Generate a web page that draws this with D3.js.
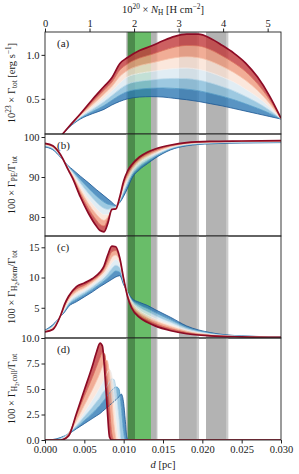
<!DOCTYPE html>
<html>
<head>
<meta charset="utf-8">
<script src="https://cdn.jsdelivr.net/npm/d3@7"></script>
<style>
  body { margin: 0; background: #fff; }
  svg text { font-family: "Liberation Serif", "DejaVu Serif", serif; fill: #1a1a1a; }
</style>
</head>
<body>
<svg id="svg"></svg>
<script>
// Distance grid (pc) and the family of curves for each panel (blue -> red)
const dTot = [0.0015, 0.003, 0.0045, 0.006, 0.0075, 0.0085, 0.0095, 0.0105, 0.012, 0.0135, 0.015, 0.0165, 0.018, 0.0195, 0.021, 0.0225, 0.024, 0.0255, 0.027, 0.0285, 0.03];
const gammaTot = [
    [0.02, 0.17, 0.27, 0.33, 0.38, 0.43, 0.47, 0.50, 0.52, 0.525, 0.52, 0.505, 0.49, 0.47, 0.445, 0.42, 0.39, 0.36, 0.33, 0.30, 0.27],
    [0.02, 0.173, 0.28, 0.353, 0.423, 0.483, 0.54, 0.583, 0.61, 0.62, 0.623, 0.618, 0.61, 0.592, 0.563, 0.53, 0.49, 0.443, 0.393, 0.337, 0.27],
    [0.02, 0.177, 0.29, 0.377, 0.467, 0.537, 0.61, 0.667, 0.70, 0.715, 0.727, 0.732, 0.73, 0.713, 0.682, 0.64, 0.59, 0.527, 0.457, 0.373, 0.27],
    [0.02, 0.18, 0.30, 0.40, 0.51, 0.59, 0.68, 0.75, 0.79, 0.81, 0.83, 0.845, 0.85, 0.835, 0.80, 0.75, 0.69, 0.61, 0.52, 0.41, 0.27],
    [0.02, 0.18, 0.31, 0.43, 0.553, 0.64, 0.753, 0.823, 0.877, 0.907, 0.94, 0.967, 0.978, 0.968, 0.93, 0.87, 0.80, 0.71, 0.597, 0.453, 0.273],
    [0.02, 0.18, 0.32, 0.46, 0.597, 0.69, 0.827, 0.897, 0.963, 1.003, 1.05, 1.088, 1.107, 1.102, 1.06, 0.99, 0.91, 0.81, 0.673, 0.497, 0.277],
    [0.02, 0.18, 0.33, 0.49, 0.64, 0.74, 0.90, 0.97, 1.05, 1.10, 1.16, 1.21, 1.235, 1.235, 1.19, 1.11, 1.02, 0.907, 0.75, 0.54, 0.28]
];

const dPE = [0, 0.001, 0.002, 0.003, 0.0035, 0.0045, 0.0055, 0.0065, 0.007, 0.0075, 0.008, 0.0085, 0.009, 0.0095, 0.01, 0.0105, 0.011, 0.012, 0.013, 0.014, 0.016, 0.018, 0.021, 0.025, 0.03];
const gammaPE = [
    [97.5, 96.8, 94.9, 92.7, 91.9, 90.2, 88.6, 86.9, 86.1, 85.3, 84.5, 83.7, 82.9, 83.6, 85.2, 87.2, 89.5, 91.8, 93.3, 94.7, 96.8, 97.8, 98.3, 98.5, 98.6],
    [97.65, 96.97, 95.0, 92.53, 91.53, 89.33, 87.27, 85.33, 84.47, 83.73, 83.2, 83.0, 82.73, 83.83, 85.8, 87.9, 90.07, 92.37, 93.8, 95.07, 97.0, 97.93, 98.4, 98.6, 98.68],
    [97.8, 97.13, 95.1, 92.37, 91.17, 88.47, 85.93, 83.77, 82.83, 82.17, 81.9, 82.3, 82.57, 84.07, 86.4, 88.6, 90.63, 92.93, 94.3, 95.43, 97.2, 98.07, 98.5, 98.7, 98.77],
    [97.95, 97.3, 95.2, 92.2, 90.8, 87.6, 84.6, 82.2, 81.2, 80.6, 80.6, 81.6, 82.4, 84.3, 87.0, 89.3, 91.2, 93.5, 94.8, 95.8, 97.4, 98.2, 98.6, 98.8, 98.85],
    [98.1, 97.47, 95.3, 92.0, 90.43, 86.73, 83.4, 80.73, 79.67, 79.17, 80.07, 81.7, 82.27, 84.53, 87.67, 90.03, 91.8, 94.0, 95.27, 96.2, 97.6, 98.33, 98.7, 98.87, 98.93],
    [98.25, 97.63, 95.4, 91.8, 90.07, 85.87, 82.2, 79.27, 78.13, 77.73, 79.53, 81.8, 82.13, 84.77, 88.33, 90.77, 92.4, 94.5, 95.73, 96.6, 97.8, 98.47, 98.8, 98.93, 99.02],
    [98.4, 97.8, 95.5, 91.6, 89.7, 85.0, 81.0, 77.8, 76.6, 76.3, 78.5, 81.9, 82.0, 85.0, 89.0, 91.5, 93.0, 95.0, 96.2, 97.0, 98.0, 98.6, 98.9, 99.0, 99.1]
];

const dForm = [0, 0.001, 0.002, 0.0025, 0.003, 0.004, 0.005, 0.006, 0.007, 0.0075, 0.008, 0.0085, 0.009, 0.0095, 0.01, 0.0105, 0.011, 0.012, 0.013, 0.014, 0.016, 0.018, 0.021, 0.025, 0.03];
const gammaForm = [
    [1.3, 2.2, 3.6, 4.3, 5.2, 6.0, 6.8, 7.6, 8.5, 8.9, 9.3, 9.7, 10.1, 10.3, 8.8, 7.6, 6.6, 5.9, 5.4, 4.7, 3.4, 2.0, 0.9, 0.35, 0.18],
    [1.25, 2.07, 3.65, 4.47, 5.47, 6.4, 7.17, 8.0, 8.93, 9.4, 9.97, 10.6, 11.07, 10.87, 9.03, 7.53, 6.4, 5.47, 4.87, 4.2, 3.0, 1.77, 0.8, 0.32, 0.17],
    [1.2, 1.93, 3.7, 4.63, 5.73, 6.8, 7.53, 8.4, 9.37, 9.9, 10.63, 11.5, 12.03, 11.6, 9.27, 7.47, 6.2, 5.03, 4.33, 3.7, 2.6, 1.53, 0.7, 0.28, 0.15],
    [1.15, 1.8, 3.7, 4.8, 6.0, 7.2, 7.9, 8.8, 9.8, 10.4, 11.3, 12.4, 13.0, 12.3, 9.5, 7.4, 6.0, 4.6, 3.8, 3.2, 2.2, 1.3, 0.6, 0.25, 0.14],
    [1.1, 1.67, 3.7, 5.1, 6.33, 7.63, 8.3, 9.17, 10.27, 10.93, 12.03, 13.33, 13.73, 12.67, 9.6, 7.2, 5.67, 4.2, 3.4, 2.8, 1.87, 1.1, 0.52, 0.23, 0.13],
    [1.05, 1.53, 3.75, 5.4, 6.67, 8.07, 8.7, 9.53, 10.53, 11.47, 12.87, 14.27, 14.47, 13.0, 9.7, 7.0, 5.33, 3.8, 3.0, 2.4, 1.53, 0.9, 0.43, 0.2, 0.11],
    [1.0, 1.4, 3.8, 5.6, 6.9, 8.5, 9.1, 9.8, 10.9, 11.9, 13.8, 15.2, 15.1, 13.3, 9.8, 6.8, 5.0, 3.4, 2.6, 2.0, 1.2, 0.7, 0.35, 0.18, 0.1]
];

const dColl = [0, 0.001, 0.002, 0.003, 0.004, 0.005, 0.006, 0.0065, 0.007, 0.0073, 0.0076, 0.0079, 0.0082, 0.0085, 0.0088, 0.0091, 0.0094, 0.0097, 0.01, 0.0102, 0.0104, 0.0106, 0.012, 0.03];
const gammaColl = [
    [0, 0.05, 0.25, 0.6, 1.1, 1.6, 2.1, 2.35, 2.6, 2.8, 3.0, 3.2, 3.4, 3.6, 3.8, 4.0, 4.25, 4.5, 3.6, 2.0, 0.3, 0, 0, 0],
    [0, 0, 0.2, 0.6, 1.2, 1.9, 2.6, 3.0, 3.4, 3.7, 4.0, 4.3, 4.6, 4.9, 5.1, 5.2, 5.0, 3.2, 0.8, 0, 0, 0, 0, 0],
    [0, 0, 0.15, 0.7, 1.4, 2.3, 3.2, 3.7, 4.2, 4.6, 4.9, 5.3, 5.7, 6.0, 5.9, 4.4, 2.2, 0, 0, 0, 0, 0, 0, 0],
    [0, 0, 0.05, 0.6, 1.6, 2.7, 3.9, 4.5, 5.2, 5.6, 6.1, 6.6, 6.9, 6.3, 4.0, 1.5, 0, 0, 0, 0, 0, 0, 0, 0],
    [0, 0, 0, 0.6, 1.9, 3.4, 4.9, 5.7, 6.6, 7.2, 7.7, 7.8, 6.4, 3.9, 1.3, 0, 0, 0, 0, 0, 0, 0, 0, 0],
    [0, 0, 0, 0.6, 2.4, 4.3, 6.1, 7.1, 8.1, 8.6, 8.4, 6.0, 3.2, 0.6, 0, 0, 0, 0, 0, 0, 0, 0, 0, 0],
    [0, 0, 0, 0.4, 2.6, 4.9, 7.2, 8.5, 9.5, 9.2, 6.6, 3.2, 0.3, 0, 0, 0, 0, 0, 0, 0, 0, 0, 0, 0]
];

// shaded distance ranges (pc)
const grayOuter = [[0.0103, 0.0143], [0.01703, 0.01958], [0.02047, 0.02331]];
const grayInner = [[0.01045, 0.01416], [0.01703, 0.01928], [0.02047, 0.02302]];
const greenDark = [[0.01051, 0.01144]];
const greenLight = [[0.01144, 0.01347]];

const xTicks = [0, 0.005, 0.01, 0.015, 0.02, 0.025, 0.03];
const nTicks = [0, 1, 2, 3, 4, 5];

const width = 299, height = 474;
const left = 45, right = 281, panelH = 102;
const tops = [32, 134, 236, 338];

const svg = d3.select("#svg").attr("width", width).attr("height", height);

const x = d3.scaleLinear().domain([0, 0.03]).range([left, right]);
const xN = d3.scaleLinear().domain([0, 5.3]).range([left, right]);

// text with super/subscripts
function rich(sel, parts, size) {
    let shift = 0;
    parts.forEach(([s, kind]) => {
        let target = 0, fs = size;
        if (kind === "sup") { target = -0.4 * size; fs = size * 0.7; }
        if (kind === "sub") { target = 0.22 * size; fs = size * 0.7; }
        if (kind === "subsub") { target = 0.38 * size; fs = size * 0.5; }
        sel.append("tspan")
            .attr("dy", target - shift)
            .attr("font-size", fs)
            .attr("font-style", kind === "it" ? "italic" : null)
            .text(s);
        shift = target;
    });
}

const panels = [
    {name: "(a)", d: dTot, curves: gammaTot, domain: [0.1, 1.26], ticks: [0.5, 1.0], fmt: ".1f",
     label: [["10", "n"], ["23", "sup"], [" \u00d7 \u0393", "n"], ["tot", "sub"], [" [erg s", "n"], ["\u22121", "sup"], ["]", "n"]]},
    {name: "(b)", d: dPE, curves: gammaPE, domain: [75.25, 100.75], ticks: [80, 90, 100], fmt: "d",
     label: [["100 \u00d7 \u0393", "n"], ["PE", "sub"], ["/\u0393", "n"], ["tot", "sub"]]},
    {name: "(c)", d: dForm, curves: gammaForm, domain: [0, 16.87], ticks: [0, 5, 10, 15], fmt: "d",
     label: [["100 \u00d7 \u0393", "n"], ["H", "sub"], ["2", "subsub"], [",form", "sub"], ["/\u0393", "n"], ["tot", "sub"]]},
    {name: "(d)", d: dColl, curves: gammaColl, domain: [0, 10], ticks: [0, 2.5, 5, 7.5, 10], fmt: ".1f",
     label: [["100 \u00d7 \u0393", "n"], ["H", "sub"], ["2", "subsub"], [",coll", "sub"], ["/\u0393", "n"], ["tot", "sub"]]}
];

const colorOf = (i) => d3.interpolateRdBu(0.93 - i * 0.86 / 6);

panels.forEach((p, k) => {
    const top = tops[k];
    const y = d3.scaleLinear().domain(p.domain).range([top + panelH, top]);
    const g = svg.append("g");

    const clipId = "clip" + k;
    svg.append("clipPath").attr("id", clipId)
        .append("rect").attr("x", left).attr("y", top).attr("width", right - left).attr("height", panelH);

    const bands = g.append("g").attr("clip-path", "url(#" + clipId + ")");
    const drawBands = (list, color) => {
        bands.selectAll(null).data(list).enter().append("rect")
            .attr("x", (b) => x(b[0]))
            .attr("width", (b) => x(b[1]) - x(b[0]))
            .attr("y", top).attr("height", panelH)
            .attr("fill", color);
    };
    drawBands(grayOuter, "#cbcbcb");
    drawBands(grayInner, "#b3b3b3");
    drawBands(greenDark, "#4c8b4c");
    drawBands(greenLight, "#69bd69");

    const curveG = g.append("g").attr("clip-path", "url(#" + clipId + ")");
    const idx = d3.range(p.d.length);

    // fill between neighbouring curves
    for (let i = 0; i < p.curves.length - 1; i++) {
        const lo = p.curves[i], hi = p.curves[i + 1];
        const area = d3.area()
            .x((j) => x(p.d[j]))
            .y0((j) => y(lo[j]))
            .y1((j) => y(hi[j]))
            .curve(d3.curveMonotoneX);
        curveG.append("path")
            .attr("d", area(idx))
            .attr("fill", d3.interpolateRdBu(0.93 - (i + 0.5) * 0.86 / 6))
            .attr("fill-opacity", 0.8);
    }

    p.curves.forEach((c, i) => {
        const line = d3.line()
            .x((j) => x(p.d[j]))
            .y((j) => y(c[j]))
            .curve(d3.curveMonotoneX);
        const last = i === p.curves.length - 1;
        curveG.append("path")
            .attr("d", line(idx))
            .attr("fill", "none")
            .attr("stroke", last ? "#8c0b25" : colorOf(i))
            .attr("stroke-width", last ? 1.7 : 0.8);
    });

    // frame
    g.append("rect")
        .attr("x", left).attr("y", top)
        .attr("width", right - left).attr("height", panelH)
        .attr("fill", "none").attr("stroke", "#222").attr("stroke-width", 0.9);

    // y axis
    const yAxis = g.append("g")
        .attr("transform", "translate(" + left + ",0)")
        .call(d3.axisLeft(y).tickValues(p.ticks).tickFormat(d3.format(p.fmt)).tickSize(3.5).tickPadding(2));
    yAxis.select(".domain").remove();
    yAxis.selectAll("text").attr("font-size", 10.5).attr("font-family", null);
    yAxis.selectAll("line").attr("stroke", "#222");
    // the zero of (c) sits under the "10.0" of (d)
    if (k === 2) yAxis.selectAll(".tick text").filter((v) => v === 0).remove();

    // panel letter
    g.append("text").attr("x", 57).attr("y", top + 15).attr("font-size", 11).text(p.name);

    // y label
    const lbl = g.append("text")
        .attr("transform", "translate(15," + (top + panelH / 2) + ") rotate(-90)")
        .attr("text-anchor", "middle")
        .attr("dy", "0.35em");
    rich(lbl, p.label, 10.5);
});

// bottom axis
const xAxis = svg.append("g")
    .attr("transform", "translate(0," + (tops[3] + panelH) + ")")
    .call(d3.axisBottom(x).tickValues(xTicks).tickFormat(d3.format(".3f")).tickSize(3.5).tickPadding(2));
xAxis.select(".domain").remove();
xAxis.selectAll("text").attr("font-size", 10.5).attr("font-family", null);
xAxis.selectAll("line").attr("stroke", "#222");

// top axis (column density)
const topAxis = svg.append("g")
    .attr("transform", "translate(0," + tops[0] + ")")
    .call(d3.axisTop(xN).tickValues(nTicks).tickFormat(d3.format("d")).tickSize(3.5).tickPadding(2));
topAxis.select(".domain").remove();
topAxis.selectAll("text").attr("font-size", 10.5).attr("font-family", null);
topAxis.selectAll("line").attr("stroke", "#222");

// axis titles
const topTitle = svg.append("text").attr("x", 163).attr("y", 13).attr("text-anchor", "middle");
rich(topTitle, [["10", "n"], ["20", "sup"], [" \u00d7 ", "n"], ["N", "it"], ["H", "sub"], [" [H cm", "n"], ["\u22122", "sup"], ["]", "n"]], 10.5);

const bottomTitle = svg.append("text").attr("x", 163).attr("y", 468).attr("text-anchor", "middle");
rich(bottomTitle, [["d", "it"], [" [pc]", "n"]], 10.5);
</script>
</body>
</html>
